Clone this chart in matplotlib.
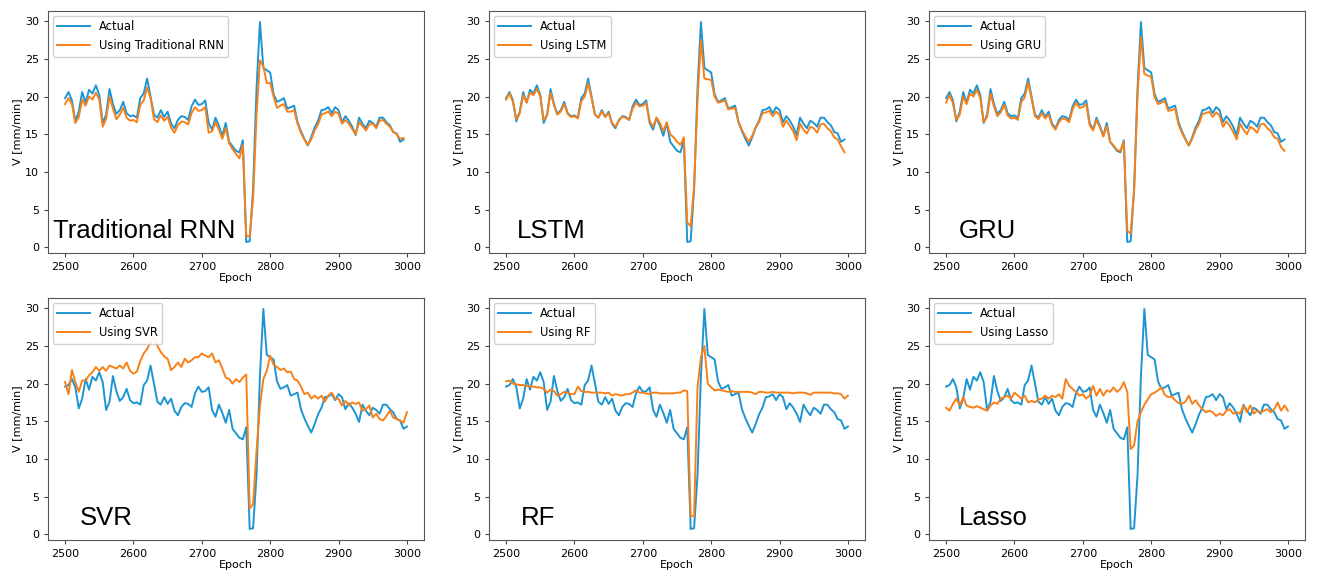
import numpy as np
import matplotlib
matplotlib.use("Agg")
import matplotlib.pyplot as plt

# Measured cutting speed, epochs 2500..3000 (step 5)
epochs = np.arange(2500, 3001, 5)
actual = [19.6, 19.8, 20.6, 19.5, 16.7, 18.0, 20.6, 19.2, 20.9, 20.4,
          21.5, 20.2, 16.5, 17.6, 21.0, 19.0, 17.7, 18.2, 19.3, 17.8,
          17.4, 17.5, 17.2, 19.8, 20.4, 22.4, 20.0, 17.6, 17.2, 18.2,
          17.3, 18.0, 16.4, 15.8, 16.9, 17.4, 17.3, 16.9, 18.7, 19.6,
          18.9, 19.0, 19.5, 16.5, 15.6, 17.2, 16.1, 14.8, 16.5, 14.0,
          13.4, 12.8, 12.6, 14.2, 0.7, 0.8, 7.8, 21.0, 29.9, 23.8,
          23.5, 23.2, 20.3, 19.3, 19.5, 19.8, 18.4, 18.6, 18.8, 16.6,
          15.4, 14.4, 13.5, 14.6, 15.9, 16.8, 18.2, 18.3, 18.6, 17.8,
          18.6, 18.2, 16.6, 17.4, 16.8, 16.0, 14.9, 17.2, 16.4, 15.8,
          16.8, 16.5, 16.0, 17.2, 17.2, 16.6, 16.2, 15.3, 15.1, 14.0,
          14.3]

# Sequence models: predictions indexed after a 5-step look-back window
seq_epochs = np.arange(2500, 2996, 5)
pred_rnn = [19.0, 19.8, 19.0, 16.5, 17.3, 19.6, 18.8, 20.0, 19.6, 20.5,
            19.6, 16.0, 17.0, 20.0, 18.4, 17.0, 17.6, 18.5, 17.2, 16.8,
            16.9, 16.6, 18.9, 19.5, 21.2, 19.8, 17.0, 16.6, 17.5, 16.8,
            17.3, 15.9, 15.2, 16.2, 16.7, 16.6, 16.3, 17.8, 18.6, 18.1,
            18.2, 18.6, 15.2, 15.4, 16.6, 15.6, 14.4, 15.8, 13.8, 13.0,
            12.4, 11.8, 13.6, 1.6, 1.4, 6.5, 17.5, 24.8, 24.0, 21.8,
            21.8, 20.0, 18.5, 18.8, 19.0, 18.0, 18.0, 18.2, 16.4, 15.2,
            14.3, 13.6, 14.3, 15.5, 16.3, 17.6, 17.8, 18.0, 17.4, 18.0,
            17.7, 16.4, 16.9, 16.4, 15.7, 15.0, 16.6, 16.1, 15.5, 16.3,
            16.4, 15.8, 16.8, 16.9, 16.4, 16.0, 15.3, 15.0, 14.4, 14.5]
pred_lstm = [19.6, 20.4, 19.3, 17.0, 17.8, 20.2, 19.2, 20.5, 20.2, 21.0,
             20.0, 16.9, 17.5, 20.5, 18.9, 17.6, 18.0, 19.0, 17.7, 17.3,
             17.4, 17.1, 19.4, 20.0, 21.8, 19.8, 17.6, 17.2, 18.0, 17.3,
             17.8, 16.5, 16.0, 16.8, 17.3, 17.2, 16.9, 18.4, 19.2, 18.7,
             18.8, 19.1, 16.8, 16.0, 17.2, 16.5, 15.4, 16.6, 15.0, 14.6,
             14.0, 13.6, 14.6, 3.3, 2.8, 8.0, 19.5, 27.5, 22.4, 22.3,
             22.2, 20.0, 19.2, 19.3, 19.5, 18.3, 18.4, 18.5, 16.6, 15.6,
             14.7, 14.0, 14.8, 15.9, 16.6, 17.8, 17.9, 18.1, 17.4, 18.0,
             17.6, 16.0, 16.8, 16.1, 15.4, 14.2, 16.4, 15.6, 15.1, 16.0,
             15.8, 15.2, 16.3, 16.4, 15.8, 15.4, 14.6, 14.3, 13.4, 12.6]
pred_gru = [19.2, 20.2, 19.1, 16.9, 17.6, 20.0, 19.0, 20.4, 20.0, 20.9,
            19.8, 16.6, 17.3, 20.4, 18.7, 17.4, 17.9, 18.9, 17.5, 17.1,
            17.2, 16.9, 19.3, 19.9, 21.9, 19.7, 17.4, 17.0, 17.8, 17.1,
            17.6, 16.2, 15.6, 16.6, 17.1, 17.0, 16.6, 18.3, 19.2, 18.5,
            18.6, 19.0, 16.2, 15.5, 16.9, 15.9, 14.7, 16.1, 14.0, 13.5,
            12.9, 12.8, 14.0, 2.2, 1.8, 7.5, 20.0, 27.9, 23.0, 22.8,
            22.6, 19.9, 19.0, 19.2, 19.4, 18.1, 18.2, 18.4, 16.3, 15.2,
            14.3, 13.5, 14.4, 15.6, 16.4, 17.7, 17.8, 18.0, 17.3, 17.9,
            17.5, 16.0, 16.7, 16.1, 15.3, 14.3, 16.4, 15.6, 15.0, 16.0,
            15.7, 15.2, 16.3, 16.4, 15.8, 15.4, 14.6, 14.4, 13.3, 12.8]

# Classical regressors: predictions on the full epoch range
pred_svr = [20.2, 18.6, 21.8, 20.2, 18.9, 20.4, 20.4, 21.1, 21.5, 22.2,
            21.7, 22.2, 21.7, 22.4, 22.2, 22.0, 22.4, 22.0, 22.8, 21.7,
            21.3, 21.6, 23.0, 24.0, 24.6, 25.5, 26.2, 25.0, 24.2, 23.6,
            23.3, 21.8, 22.2, 22.8, 22.2, 23.3, 22.8, 23.1, 23.5, 23.5,
            24.0, 23.7, 23.5, 24.0, 22.8, 23.1, 22.0, 20.8, 20.6, 20.0,
            20.6, 20.2, 20.8, 21.2, 3.4, 4.0, 11.0, 17.0, 20.6, 21.7,
            23.7, 22.5, 22.2, 21.8, 22.0, 21.5, 21.6, 20.6, 20.4, 19.6,
            18.6, 18.8, 18.0, 18.4, 18.0, 18.4, 17.6, 18.4, 18.8, 18.0,
            18.0, 17.1, 17.7, 17.1, 17.5, 17.3, 17.5, 16.4, 16.6, 17.1,
            15.5, 16.0, 15.3, 15.1, 15.7, 16.4, 15.5, 15.3, 15.1, 14.8,
            16.2]
pred_rf = [20.3, 20.4, 20.0, 19.9, 19.8, 19.8, 19.7, 19.6, 19.6, 19.5,
           19.5, 19.3, 18.8, 19.2, 19.0, 18.4, 18.6, 18.9, 18.8, 18.6,
           18.6, 19.6, 19.0, 18.9, 18.9, 18.8, 18.8, 18.8, 18.8, 18.7,
           18.8, 18.4, 18.6, 18.5, 18.4, 18.6, 18.6, 18.8, 19.1, 18.8,
           18.8, 18.7, 18.6, 18.8, 18.8, 18.7, 18.7, 18.7, 18.7, 18.7,
           18.8, 18.8, 19.1, 19.0, 2.4, 2.4, 19.5, 23.5, 25.0, 20.0,
           19.5, 19.1, 19.2, 19.1, 19.0, 18.9, 19.0, 18.9, 18.9, 18.9,
           18.9, 18.9, 18.8, 18.6, 18.9, 18.9, 18.8, 18.8, 18.9, 18.8,
           18.8, 18.8, 18.8, 18.8, 18.7, 18.8, 18.8, 18.8, 18.7, 18.5,
           18.8, 18.8, 18.8, 18.8, 18.8, 18.8, 18.7, 18.7, 18.6, 18.0,
           18.4]
pred_lasso = [16.8, 16.4, 17.3, 18.0, 17.1, 18.2, 17.1, 16.9, 16.8, 17.0,
              16.8, 16.6, 16.4, 17.1, 17.5, 17.3, 18.0, 18.2, 18.4, 18.0,
              18.8, 18.4, 18.0, 18.4, 17.5, 17.7, 17.5, 17.9, 18.0, 18.4,
              18.0, 18.4, 18.2, 18.6, 18.0, 20.6, 19.7, 19.3, 18.9, 18.4,
              18.6, 18.0, 18.4, 19.7, 18.4, 19.3, 18.4, 19.1, 18.9, 19.5,
              18.9, 19.3, 20.2, 18.9, 11.3, 11.8, 15.0, 16.2, 17.2, 17.9,
              18.6, 18.8, 19.1, 19.5, 18.5, 18.2, 18.3, 17.8, 17.4, 17.3,
              17.6, 18.4, 17.3, 17.8, 17.1, 16.6, 16.2, 16.4, 16.2, 15.7,
              16.0, 15.8, 16.4, 16.6, 16.0, 16.2, 16.0, 17.1, 16.2, 17.1,
              16.0, 16.4, 16.2, 16.4, 16.6, 16.2, 16.6, 17.5, 16.4, 17.1,
              16.4]

BLUE = "#1c95d2"
ORANGE = "#f88019"

panels = [
    ("Traditional RNN", seq_epochs, actual[1:], pred_rnn),
    ("LSTM", seq_epochs, actual[1:], pred_lstm),
    ("GRU", seq_epochs, actual[1:], pred_gru),
    ("SVR", epochs, actual, pred_svr),
    ("RF", epochs, actual, pred_rf),
    ("Lasso", epochs, actual, pred_lasso),
]

W, H = 1321, 577
fig = plt.figure(figsize=(W / 100, H / 100), dpi=100)

col_left = [48, 489, 929]
col_width = 376
row_top = [11, 298]
row_height = 242

label_pos = [(0.012, 0.092), (0.075, 0.092), (0.08, 0.092),
             (0.085, 0.092), (0.085, 0.092), (0.08, 0.092)]

for i, (name, x, y_act, y_pred) in enumerate(panels):
    r, c = divmod(i, 3)
    left = col_left[c] / W
    bottom = 1 - (row_top[r] + row_height) / H
    ax = fig.add_axes([left, bottom, col_width / W, row_height / H])
    ax.plot(x, y_act, color=BLUE, lw=1.4, label="Actual")
    ax.plot(x, y_pred, color=ORANGE, lw=1.4, label="Using " + name)
    ax.set_xticks([2500, 2600, 2700, 2800, 2900, 3000])
    ax.set_xlim(2475, 3025)
    ax.set_yticks([0, 5, 10, 15, 20, 25, 30])
    ax.tick_params(labelsize=8, length=3, color="#444444")
    ax.set_xlabel("Epoch", fontsize=8, labelpad=1)
    ax.set_ylabel("V [mm/min]", fontsize=8, labelpad=2)
    for sp in ax.spines.values():
        sp.set_color("#555555")
    ax.legend(loc="upper left", fontsize=8.3, handlelength=2.8,
              borderaxespad=0.4, framealpha=0.9)
    lx, ly = label_pos[i]
    ax.text(lx, ly, name, transform=ax.transAxes, fontsize=18.5,
            family="Liberation Sans", va="center", ha="left")

fig.savefig("out.png", dpi=100)
